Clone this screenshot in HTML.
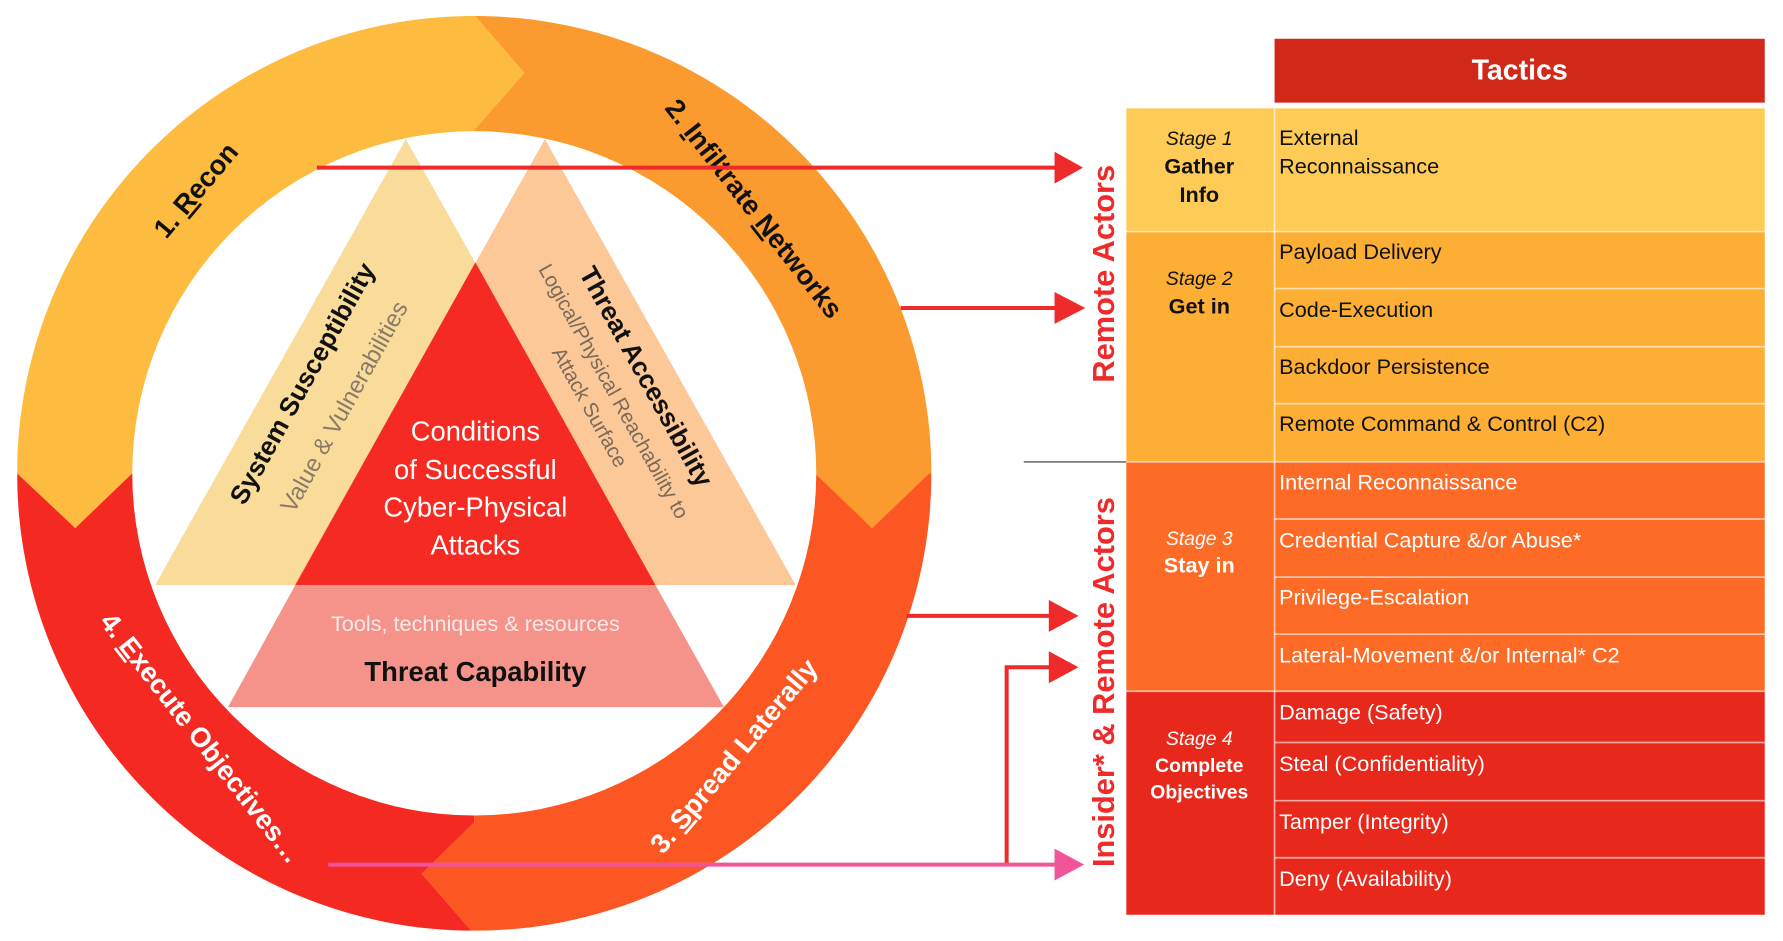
<!DOCTYPE html>
<html><head><meta charset="utf-8"><style>html,body{margin:0;padding:0;background:#fff;width:1783px;height:941px;overflow:hidden}svg{display:block}</style></head>
<body>
<svg width="1783" height="941" viewBox="0 0 1564 825" preserveAspectRatio="none" xmlns="http://www.w3.org/2000/svg" font-family="'Liberation Sans', sans-serif">
<defs>
<clipPath id="ring"><path clip-rule="evenodd" d="M416,415 m-401,0 a401,401 0 1,0 802,0 a401,401 0 1,0 -802,0 Z M416,415 m-300,0 a300,300 0 1,0 600,0 a300,300 0 1,0 -600,0 Z"/></clipPath>
</defs>
<g clip-path="url(#ring)">
<polygon fill="#FDBB3F" points="-50,-50 416,-50 416,13 460,64 416,114 416,415 116,415 66,463 15,415 -50,415"/>
<polygon fill="#FB9A2E" points="416,-50 900,-50 900,415 815,415 765,463 715,415 416,415 416,114 460,64 416,13"/>
<polygon fill="#FC5722" points="900,415 900,900 416,900 416,819 370,766 416,721 416,415 715,415 765,463 815,415"/>
<polygon fill="#F42A22" points="-50,415 15,415 66,463 116,415 416,415 416,721 370,766 416,819 416,900 -50,900"/>
</g>
<polygon fill="#FADC9A" points="356,122 136,513 576,513"/>
<polygon fill="#FDC897" points="478,122 258,513 698,513"/>
<polygon fill="#F52A22" points="417,230 259,513 575,513"/>
<polygon fill="#F5938A" points="259,513 575,513 635,620 200,620"/>

<text transform="translate(178,172) rotate(-50)" text-anchor="middle" font-size="24" font-weight="bold" fill="#111">1. <tspan text-decoration="underline">R</tspan>econ</text>
<text transform="translate(655,188) rotate(52)" text-anchor="middle" font-size="24" font-weight="bold" fill="#111">2. <tspan text-decoration="underline">I</tspan>nfiltrate <tspan text-decoration="underline">N</tspan>etworks</text>
<text transform="translate(650,668) rotate(-50)" text-anchor="middle" font-size="24" font-weight="bold" fill="#fff">3. <tspan text-decoration="underline">S</tspan>pread Laterally</text>
<text transform="translate(170,652) rotate(52)" text-anchor="middle" font-size="24" font-weight="bold" fill="#fff">4. <tspan text-decoration="underline">E</tspan>xecute Objectives…</text>

<text transform="translate(272,340) rotate(-61)" text-anchor="middle" font-size="23" font-weight="bold" fill="#111">System Susceptibility</text>
<text transform="translate(308,360) rotate(-61)" text-anchor="middle" font-size="21" fill="#8a7a6a">Value &amp; Vulnerabilities</text>
<text transform="translate(560,334) rotate(61)" text-anchor="middle" font-size="23" font-weight="bold" fill="#111">Threat Accessibility</text>
<text transform="translate(533,346) rotate(61)" text-anchor="middle" font-size="18" fill="#7a6a5a">Logical/Physical Reachability to</text>
<text transform="translate(512,360) rotate(61)" text-anchor="middle" font-size="18" fill="#7a6a5a">Attack Surface</text>

<g text-anchor="middle" font-size="24" fill="#fff">
<text x="417" y="386">Conditions</text>
<text x="417" y="420">of Successful</text>
<text x="417" y="453">Cyber-Physical</text>
<text x="417" y="486">Attacks</text>
</g>
<text x="417" y="553" text-anchor="middle" font-size="19" fill="#fdeae6">Tools, techniques &amp; resources</text>
<text x="417" y="597" text-anchor="middle" font-size="24" font-weight="bold" fill="#111">Threat Capability</text>

<g stroke="#EE2A2A" stroke-width="3.5" fill="none">
<line x1="278" y1="147" x2="935" y2="147"/>
<line x1="790" y1="270" x2="935" y2="270"/>
<line x1="795" y1="540" x2="930" y2="540"/>
<polyline points="883,758 883,585 930,585"/>
</g>
<line x1="288" y1="758" x2="935" y2="758" stroke="#F0559A" stroke-width="3.5"/>
<g fill="#EE2A2A">
<polygon points="925,133 950,147 925,161"/>
<polygon points="925,256 952,270 925,284"/>
<polygon points="920,526 946,540 920,554"/>
<polygon points="920,571 946,585 920,599"/>
</g>
<polygon fill="#F0559A" points="925,744 951,758 925,772"/>

<line x1="898" y1="405" x2="988" y2="405" stroke="#333" stroke-width="1"/>
<text transform="translate(977,240) rotate(-90)" text-anchor="middle" font-size="27" font-weight="bold" fill="#EE2A2A">Remote Actors</text>
<text transform="translate(977,598) rotate(-90)" text-anchor="middle" font-size="27" font-weight="bold" fill="#EE2A2A">Insider* &amp; Remote Actors</text>

<rect x="1118" y="34" width="430" height="56" fill="#D1281A"/>
<text x="1333" y="63" text-anchor="middle" font-size="25" font-weight="bold" fill="#fff" dominant-baseline="middle">Tactics</text>
<rect x="988" y="95" width="560" height="108" fill="#FECB57"/>
<rect x="988" y="203" width="560" height="202" fill="#FDAE35"/>
<rect x="988" y="405" width="560" height="201" fill="#FD6B26"/>
<rect x="988" y="606" width="560" height="196" fill="#E8281B"/>
<g stroke="#fff" stroke-opacity="0.6" stroke-width="1.5">
<line x1="1118" y1="95" x2="1118" y2="802"/>
<line x1="988" y1="203" x2="1548" y2="203"/>
<line x1="1118" y1="253" x2="1548" y2="253"/>
<line x1="1118" y1="304" x2="1548" y2="304"/>
<line x1="1118" y1="354" x2="1548" y2="354"/>
<line x1="988" y1="405" x2="1548" y2="405"/>
<line x1="1118" y1="455" x2="1548" y2="455"/>
<line x1="1118" y1="506" x2="1548" y2="506"/>
<line x1="1118" y1="556" x2="1548" y2="556"/>
<line x1="988" y1="606" x2="1548" y2="606"/>
<line x1="1118" y1="651" x2="1548" y2="651"/>
<line x1="1118" y1="702" x2="1548" y2="702"/>
<line x1="1118" y1="752" x2="1548" y2="752"/>
</g>
<g text-anchor="middle" font-size="19" fill="#111">
<text x="1052" y="127" font-style="italic" font-size="17">Stage 1</text>
<text x="1052" y="152" font-weight="bold">Gather</text>
<text x="1052" y="177" font-weight="bold">Info</text>
<text x="1052" y="250" font-style="italic" font-size="17">Stage 2</text>
<text x="1052" y="275" font-weight="bold">Get in</text>
</g>
<g text-anchor="middle" font-size="19" fill="#fff">
<text x="1052" y="478" font-style="italic" font-size="17">Stage 3</text>
<text x="1052" y="502" font-weight="bold">Stay in</text>
<text x="1052" y="653" font-style="italic" font-size="17">Stage 4</text>
<text x="1052" y="677" font-weight="bold" font-size="17">Complete</text>
<text x="1052" y="700" font-weight="bold" font-size="17">Objectives</text>
</g>
<g font-size="19" fill="#111">
<text x="1122" y="127">External</text>
<text x="1122" y="152">Reconnaissance</text>
<text x="1122" y="227">Payload Delivery</text>
<text x="1122" y="278">Code-Execution</text>
<text x="1122" y="328">Backdoor Persistence</text>
<text x="1122" y="378">Remote Command &amp; Control (C2)</text>
</g>
<g font-size="19" fill="#fff">
<text x="1122" y="429">Internal Reconnaissance</text>
<text x="1122" y="480">Credential Capture &amp;/or Abuse*</text>
<text x="1122" y="530">Privilege-Escalation</text>
<text x="1122" y="581">Lateral-Movement &amp;/or Internal* C2</text>
<text x="1122" y="631">Damage (Safety)</text>
<text x="1122" y="676">Steal (Confidentiality)</text>
<text x="1122" y="727">Tamper (Integrity)</text>
<text x="1122" y="777">Deny (Availability)</text>
</g>
</svg>
</body></html>
